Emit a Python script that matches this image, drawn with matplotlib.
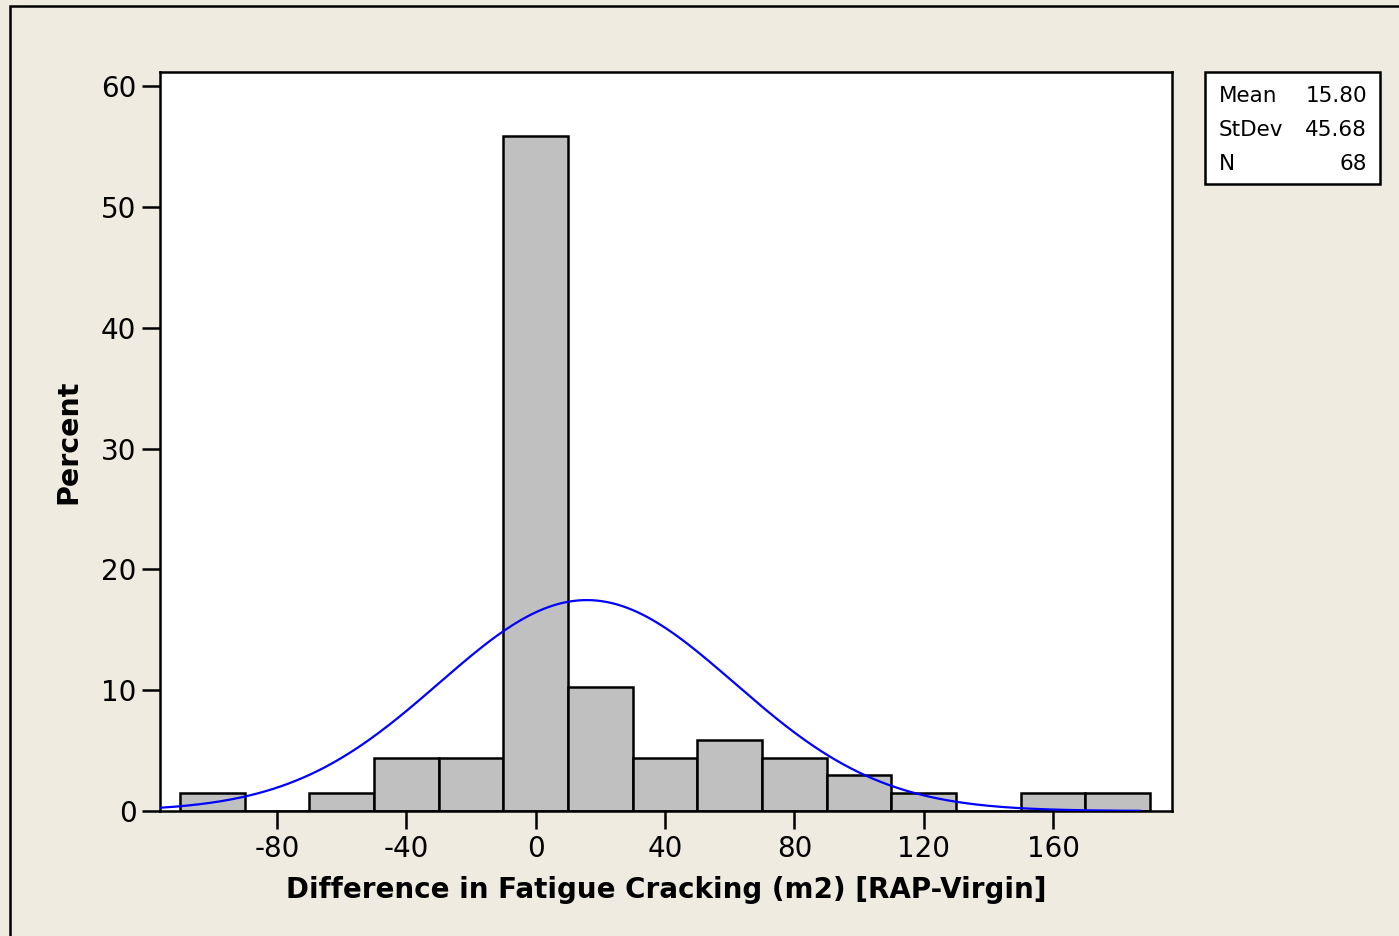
import numpy as np
import matplotlib
matplotlib.use("Agg")
import matplotlib.pyplot as plt
from matplotlib.patches import Rectangle

plt.rcParams["axes.unicode_minus"] = False

# Histogram data (bin centres, width 20), N = 68
bin_centers = [-100, -80, -60, -40, -20, 0, 20, 40, 60, 80, 100, 120, 140, 160, 180]
counts = [1, 0, 1, 3, 3, 38, 7, 3, 4, 3, 2, 1, 0, 1, 1]
n_total = 68
mean = 15.80
stdev = 45.68
bin_width = 20
curve_range = (-116, 187)

xticks = [-80, -40, 0, 40, 80, 120, 160]
yticks = [0, 10, 20, 30, 40, 50, 60]

bg = "#EFEBE1"

fig = plt.figure(figsize=(13.99, 9.36), dpi=100, facecolor=bg)
ax = fig.add_axes([160 / 1399, 1 - 811 / 936, (1172 - 160) / 1399, (811 - 72) / 936])

percent = np.array(counts) / n_total * 100
ax.bar(bin_centers, percent, width=bin_width, color="#C0C0C0",
       edgecolor="black", linewidth=1.8, zorder=2)

# fitted normal curve, scaled to percent per bin
x = np.linspace(curve_range[0], curve_range[1], 400)
y = 100 * bin_width / (stdev * np.sqrt(2 * np.pi)) * np.exp(-0.5 * ((x - mean) / stdev) ** 2)
ax.plot(x, y, color="#0000FF", linewidth=1.6, zorder=3)

ax.set_xlim(-116.2, 196.8)
ax.set_ylim(0, 61.2)
ax.set_xticks(xticks)
ax.set_yticks(yticks)
ax.tick_params(direction="out", length=13, width=1.8, labelsize=20, pad=4)
for s in ax.spines.values():
    s.set_linewidth(1.8)

ax.set_xlabel("Difference in Fatigue Cracking (m2) [RAP-Virgin]",
              fontsize=20, fontweight="bold", labelpad=10)
ax.set_ylabel("Percent", fontsize=20.5, fontweight="bold", labelpad=13)

# stats box
fig.patches.append(Rectangle((1205 / 1399, 1 - 184 / 936), 175 / 1399, 112 / 936,
                             transform=fig.transFigure, facecolor="white",
                             edgecolor="black", linewidth=1.8))
labels = ["Mean", "StDev", "N"]
values = ["15.80", "45.68", "68"]
for i, (lab, val) in enumerate(zip(labels, values)):
    yy = 1 - (96 + i * 34) / 936
    fig.text(1219 / 1399, yy, lab, fontsize=15.5, va="center", ha="left")
    fig.text(1367 / 1399, yy, val, fontsize=15.5, va="center", ha="right")

# outer frame
fig.patches.append(Rectangle((10 / 1399, -0.1), 1.2, 1 - 6 / 936 + 0.1,
                             transform=fig.transFigure, fill=False,
                             edgecolor="black", linewidth=1.8))

fig.savefig("out.png", dpi=100, facecolor=bg)
